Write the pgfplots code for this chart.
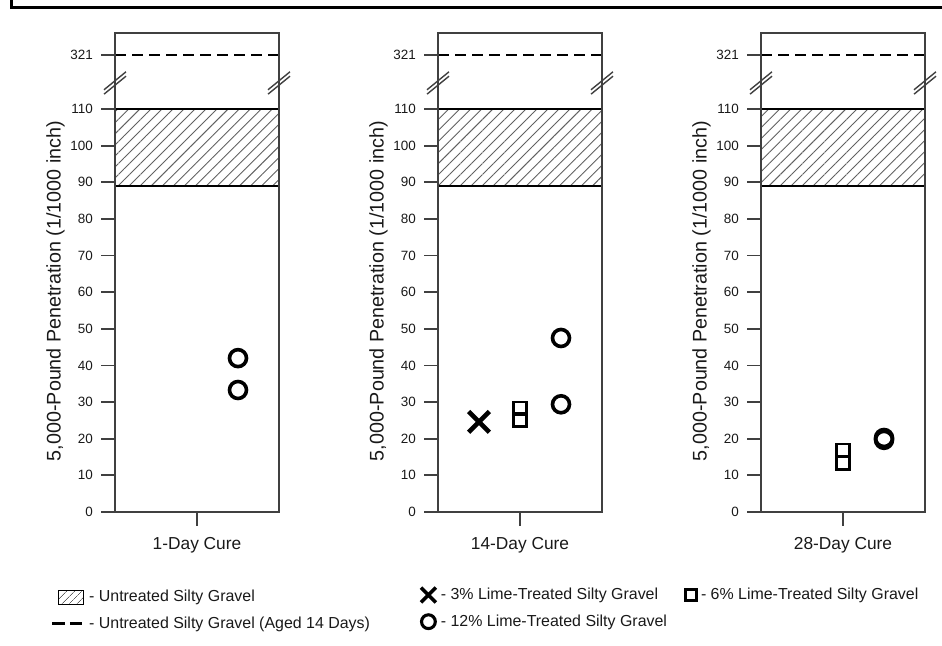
\documentclass[border=0pt]{standalone}
\usepackage{fontspec}
\setmainfont{Liberation Sans}
\usepackage{pgfplots}
\pgfplotsset{compat=1.18}
\usetikzlibrary{patterns.meta}

\definecolor{boxc}{gray}{0.25}
\definecolor{hatchc}{gray}{0.38}
\newcommand{\tl}[1]{{\fontsize{13.5}{16}\selectfont #1}}

\tikzset{
  boxline/.style={line width=1.8bp, color=boxc},
  hatchfill/.style={pattern={Lines[angle=45,distance=7.8bp,line width=0.9bp]}, pattern color=hatchc},
}

\pgfplotsset{
  panelbase/.style={
    scale only axis, width=164bp, xmin=0, xmax=4,
    axis line style={draw=none},
    tick align=outside, tick pos=left,
    major tick length=14bp,
    tick style={line width=1.8bp, color=boxc},
    yticklabel style={color=black!90, inner sep=0pt, xshift=-8bp},
    clip=false,
  },
  lowpanel/.style={panelbase, height=429bp, ymin=0, ymax=117.1,
    ytick={0,10,20,30,40,50,60,70,80,90,100,110},
    yticklabels={\tl{0},\tl{10},\tl{20},\tl{30},\tl{40},\tl{50},\tl{60},\tl{70},\tl{80},\tl{90},\tl{100},\tl{110}},
    xtick={2},
    xticklabel style={font=\fontsize{17.4}{20}\selectfont, color=black!90, inner sep=0pt, yshift=-11bp},
    ylabel={5,000-Pound Penetration (1/1000 inch)},
    ylabel style={font=\fontsize{19.8}{23}\selectfont, color=black!90, at={(axis description cs:-0.363,0.515)}, anchor=center},
    legend cell align=left,
    legend style={draw=none, fill=none, inner sep=0pt, outer sep=0pt, anchor=north west,
      font=\fontsize{16}{19}\selectfont, text=black!90,
      nodes={inner sep=0pt, text height=12bp, text depth=3bp}},
  },
  uppanel/.style={panelbase, height=50bp, ymin=311, ymax=329, ytick={321}, yticklabels={\tl{321}}, xtick=\empty},
  circ/.style={forget plot, only marks, mark=o, mark size=8.5bp, line width=3.6bp, black},
  sq/.style={forget plot, only marks, mark=square, mark size=6.3bp, line width=2.5bp, black},
  crs/.style={forget plot, only marks, mark=x, mark size=14.7bp, line width=4.6bp, black},
}

\newcommand{\lowcommon}{%
  \addplot[forget plot, draw=none, hatchfill] coordinates {(0,89) (0,110) (4,110) (4,89) (0,89)};
  \addplot[forget plot, line width=2.5bp, black] coordinates {(0,110) (4,110)};
  \addplot[forget plot, line width=2.5bp, black] coordinates {(0,89) (4,89)};
  \draw[boxline] (rel axis cs:0,1) -- (rel axis cs:0,0) -- (rel axis cs:1,0) -- (rel axis cs:1,1);
}
\newcommand{\upcommon}{%
  \addplot[forget plot, line width=2.5bp, black, dash pattern=on 11bp off 6bp] coordinates {(0,321) (4,321)};
  \draw[boxline] (rel axis cs:0,0) -- (rel axis cs:0,1) -- (rel axis cs:1,1) -- (rel axis cs:1,0);
  \draw[line width=1.4bp, boxc] ([xshift=-11bp,yshift=-11.2bp]rel axis cs:0,0) -- ++(22bp,18bp);
  \draw[line width=1.4bp, boxc] ([xshift=-11bp,yshift=-6.8bp]rel axis cs:0,0) -- ++(22bp,18bp);
  \draw[line width=1.4bp, boxc] ([xshift=-11bp,yshift=-11.2bp]rel axis cs:1,0) -- ++(22bp,18bp);
  \draw[line width=1.4bp, boxc] ([xshift=-11bp,yshift=-6.8bp]rel axis cs:1,0) -- ++(22bp,18bp);
}

\begin{document}
\begin{tikzpicture}[x=1bp,y=1bp]
\useasboundingbox (0,0) rectangle (942,646);
\draw[line width=2.5bp, black] (11.7,646) -- (11.7,638.7) -- (942,638.7);

% ---------- Panel 1 ----------
\begin{axis}[uppanel, at={(115bp,563bp)}, anchor=south west]
\upcommon
\end{axis}
\begin{axis}[lowpanel, at={(115bp,134bp)}, anchor=south west, xticklabels={1-Day Cure},
  legend style={at={(-0.3902,-0.1807)}, row sep=10.7bp, column sep=5bp}]
\lowcommon
\addplot[circ] coordinates {(3,42.0) (3,33.3)};
\addlegendimage{legend image code/.code={
   \fill[pattern={Lines[angle=45,distance=6bp,line width=0.9bp]}, pattern color=hatchc] (6bp,-7bp) rectangle (31bp,7bp);
   \draw[line width=1.8bp] (6bp,-7bp) -- (31bp,-7bp) (6bp,7bp) -- (31bp,7bp);}}
\addlegendentry{- Untreated Silty Gravel}
\addlegendimage{legend image code/.code={\draw[line width=2.5bp, dash pattern=on 12.5bp off 5bp] (0bp,0bp) -- (30bp,0bp);}}
\addlegendentry{- Untreated Silty Gravel (Aged 14 Days)}
\end{axis}

% ---------- Panel 2 ----------
\begin{axis}[uppanel, at={(438bp,563bp)}, anchor=south west]
\upcommon
\end{axis}
\begin{axis}[lowpanel, at={(438bp,134bp)}, anchor=south west, xticklabels={14-Day Cure},
  legend style={at={(-0.1037,-0.176)}, row sep=11.7bp, column sep=5bp}]
\lowcommon
\addplot[crs] coordinates {(1,24.6)};
\addplot[sq] coordinates {(2,28.3) (2,25.1)};
\addplot[circ] coordinates {(3,47.5) (3,29.4)};
\addlegendimage{legend image code/.code={\draw[line width=3.6bp] plot[mark=x, mark size=10.5bp] coordinates {(7.4bp,0bp)};}}
\addlegendentry{- 3\% Lime-Treated Silty Gravel}
\addlegendimage{legend image code/.code={\draw[line width=3.1bp] plot[mark=o, mark size=6.9bp] coordinates {(7.4bp,0bp)};}}
\addlegendentry{- 12\% Lime-Treated Silty Gravel}
\end{axis}

% ---------- Panel 3 ----------
\begin{axis}[uppanel, at={(761bp,563bp)}, anchor=south west]
\upcommon
\end{axis}
\begin{axis}[lowpanel, at={(761bp,134bp)}, anchor=south west, xticklabels={28-Day Cure},
  legend style={at={(-0.4604,-0.176)}, column sep=4.5bp}]
\lowcommon
\addplot[sq] coordinates {(2,16.8) (2,13.3)};
\addplot[circ] coordinates {(3,19.7) (3,20.2)};
\addlegendimage{legend image code/.code={\draw[line width=2.5bp] plot[mark=square, mark size=5.5bp] coordinates {(5.5bp,0bp)};}}
\addlegendentry{- 6\% Lime-Treated Silty Gravel}
\end{axis}
\end{tikzpicture}
\end{document}
